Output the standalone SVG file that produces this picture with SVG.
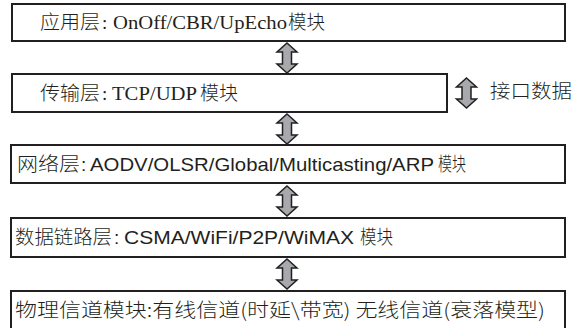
<svg xmlns="http://www.w3.org/2000/svg" width="586" height="328" viewBox="0 0 586 328">
<style>
.box{fill:#fff;stroke:#231f20;stroke-width:2}
.t{font-family:"Noto Sans CJK SC","Noto Sans",sans-serif;font-size:19px;font-weight:300;fill:#231f20}
.serif{font-family:"Liberation Serif","DejaVu Serif",serif;font-weight:400}
.sans{font-family:"Liberation Sans","DejaVu Sans",sans-serif;font-weight:400}
.arr{fill:#a7a9ac;stroke:#231f20;stroke-width:1.5;stroke-linejoin:miter}
</style>
<defs>
<path id="dbl" d="M0,-15 L10,-6 L4.5,-6 L4.5,6 L10,6 L0,15 L-10,6 L-4.5,6 L-4.5,-6 L-10,-6 Z"/>
</defs>
<rect width="586" height="328" fill="#fff"/>
<g id="app">
<rect class="box" x="12" y="4" width="553" height="37"/>
<text class="t" y="29"><tspan x="40" textLength="60" lengthAdjust="spacingAndGlyphs">应用层</tspan><tspan class="serif" x="102">:</tspan><tspan class="serif" x="113" textLength="174" lengthAdjust="spacingAndGlyphs">OnOff/CBR/UpEcho</tspan><tspan x="288" textLength="37" lengthAdjust="spacingAndGlyphs">模块</tspan></text>
</g>
<g id="transport">
<rect class="box" x="12" y="74" width="435" height="38"/>
<text class="t" y="100"><tspan x="40" textLength="60" lengthAdjust="spacingAndGlyphs">传输层</tspan><tspan class="serif" x="102">:</tspan><tspan class="serif" x="112" textLength="85" lengthAdjust="spacingAndGlyphs">TCP/UDP</tspan><tspan x="200" textLength="38" lengthAdjust="spacingAndGlyphs">模块</tspan></text>
</g>
<g id="interface">
<text class="t" x="490" y="98" textLength="82" lengthAdjust="spacingAndGlyphs">接口数据</text>
</g>
<g id="network">
<rect class="box" x="11" y="145" width="554" height="38"/>
<text class="t" y="171"><tspan x="17" textLength="63" lengthAdjust="spacingAndGlyphs">网络层</tspan><tspan class="sans" x="81">:</tspan><tspan class="sans" x="90" textLength="344" lengthAdjust="spacingAndGlyphs">AODV/OLSR/Global/Multicasting/ARP</tspan><tspan x="438" textLength="28" lengthAdjust="spacingAndGlyphs">模块</tspan></text>
</g>
<g id="datalink">
<rect class="box" x="11" y="218" width="554" height="39"/>
<text class="t" y="244"><tspan x="15" textLength="97" lengthAdjust="spacingAndGlyphs">数据链路层</tspan><tspan class="sans" x="114">:</tspan><tspan class="sans" x="124" textLength="230" lengthAdjust="spacingAndGlyphs">CSMA/WiFi/P2P/WiMAX</tspan><tspan x="360" textLength="33" lengthAdjust="spacingAndGlyphs">模块</tspan></text>
</g>
<g id="physical">
<rect class="box" x="11" y="291" width="554" height="40"/>
<text class="t" x="15" y="317" textLength="530" lengthAdjust="spacingAndGlyphs">物理信道模块:有线信道(时延\带宽) 无线信道(衰落模型)</text>
</g>
<g id="connectors">
<use href="#dbl" class="arr" x="287" y="58"/>
<use href="#dbl" class="arr" x="287" y="129"/>
<use href="#dbl" class="arr" x="287" y="201"/>
<use href="#dbl" class="arr" x="287" y="274"/>
<use href="#dbl" class="arr" x="466.5" y="93"/>
</g>
</svg>
